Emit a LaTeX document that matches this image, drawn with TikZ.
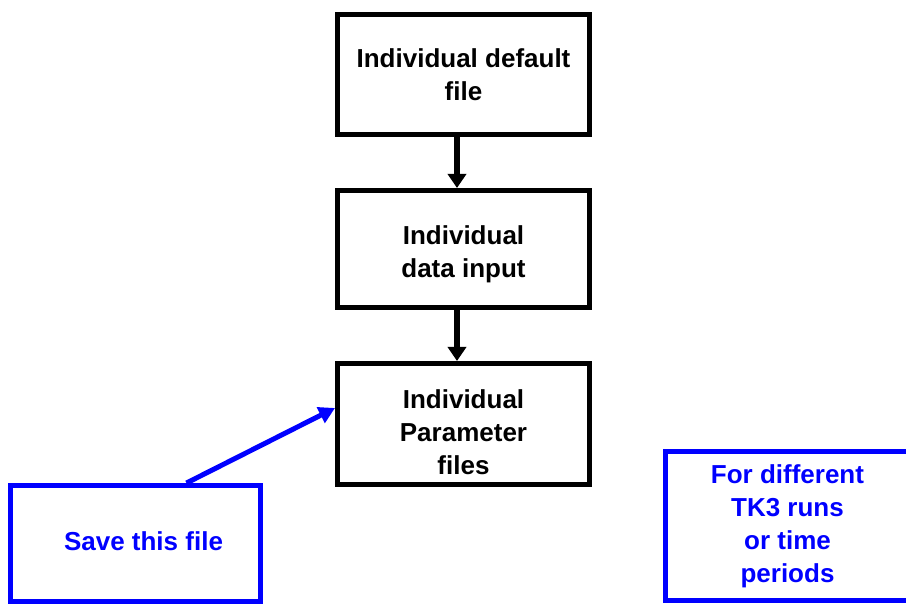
\documentclass[tikz,border=0pt]{standalone}
\usepackage{fontspec}
\setmainfont{Liberation Sans}
\usetikzlibrary{arrows.meta,calc}
\tikzset{
  blackbox/.style={draw=black,line width=5pt,fill=white,inner sep=0pt},
  bluebox/.style={draw=blue,line width=5pt,fill=white,inner sep=0pt},
  boxtext/.style={align=center,inner sep=0pt,font=\fontsize{26}{33}\selectfont\bfseries},
  bluetext/.style={boxtext,text=blue},
  blackarrow/.style={draw=black,line width=6pt,-{Triangle[length=14pt,width=18pt]}},
  bluearrow/.style={draw=blue,line width=5pt,-{Triangle[length=16pt,width=17pt]}}
}
\begin{document}
\begin{tikzpicture}[x=1pt,y=1pt]
\useasboundingbox (0,0) rectangle (906,606);
\clip (0,0) rectangle (906,606);
\fill[white] (0,0) rectangle (906,606);
\node[blackbox,minimum width=252pt,minimum height=120pt] (p1) at (463.5,531.5) {};
\node[boxtext] (p1t) at (p1.center) {Individual default\\file};
\node[blackbox,minimum width=252pt,minimum height=117pt] (p2) at (463.5,357) {};
\node[boxtext] (p2t) at ([yshift=-5pt]p2.center) {Individual\\data input};
\node[blackbox,minimum width=252pt,minimum height=121pt] (p3) at (463.5,182) {};
\node[boxtext] (p3t) at ([yshift=-8.5pt]p3.center) {Individual\\Parameter\\files};
\node[bluebox,minimum width=250pt,minimum height=116pt] (save) at (135.5,62.5) {};
\node[bluetext] (savet) at ([xshift=8pt,yshift=2pt]save.center) {Save this file};
\node[bluebox,minimum width=250pt,minimum height=149pt] (tk) at (790.5,80) {};
\node[bluetext] (tkt) at ([xshift=-3pt]tk.center) {For different\\TK3 runs\\or time\\periods};
\draw[blackarrow] ([xshift=-6.5pt]p1.south) -- ([xshift=-6.5pt]p2.north);
\draw[blackarrow] ([xshift=-6.5pt]p2.south) -- ([xshift=-6.5pt]p3.north);
\draw[bluearrow] ($(save.north west)!0.70!(save.north east)$) -- ([yshift=16pt]p3.west);
\end{tikzpicture}
\end{document}
